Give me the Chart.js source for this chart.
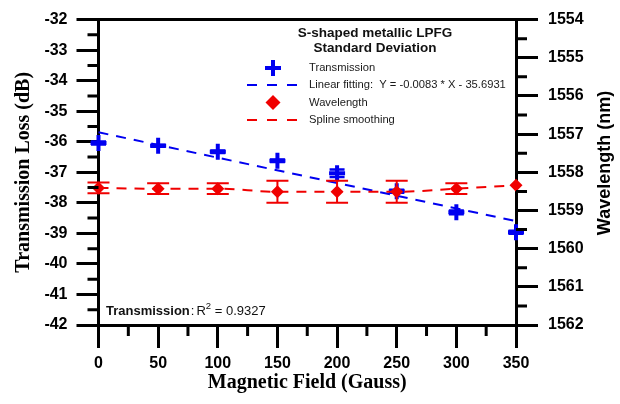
<!DOCTYPE html>
<html>
<head>
<meta charset="utf-8">
<script src="https://cdn.jsdelivr.net/npm/chart.js@4"></script>
<style>
  body { margin: 0; background: #fff; }
</style>
</head>
<body>
<canvas id="chart1" width="620" height="404"></canvas>
<script>
// donnees
var fieldX = [0, 50, 100, 150, 200, 250, 300, 350];
var transLoss = [-36.04, -36.13, -36.33, -36.62, -37.03, -37.62, -38.31, -38.96];
var transErr = [0.05, 0.03, 0.04, 0.04, 0.12, 0.05, 0.06, 0.05];
var wavelength = [1558.41, 1558.43, 1558.43, 1558.51, 1558.51, 1558.51, 1558.43, 1558.34];
var waveErr = [0.14, 0.14, 0.14, 0.29, 0.29, 0.29, 0.14, 0];
var fitX = [0, 350];
var fitY = [-35.69, -38.60];
var xTicks = [0, 50, 100, 150, 200, 250, 300, 350];

var BLUE = '#0000f0';
var RED = '#f00000';
var SANS = "'Liberation Sans', Arial, sans-serif";
var SERIF = "'Liberation Serif', 'Times New Roman', serif";

function pts(xs, ys) {
  return xs.map(function (x, i) { return { x: x, y: ys[i] }; });
}

// barres d'erreur, sous les marqueurs
var errorBars = {
  id: 'errorBars',
  beforeDatasetDraw: function (chart, args) {
    var ds = chart.data.datasets[args.index];
    if (!ds.errors) return;
    var ctx = chart.ctx;
    var xs = chart.scales.x;
    var ys = chart.scales[ds.yAxisID];
    ctx.save();
    ctx.strokeStyle = ds.errColor;
    ctx.lineWidth = ds.errWidth;
    ds.data.forEach(function (p, i) {
      var e = ds.errors[i];
      if (!e) return;
      var px = xs.getPixelForValue(p.x);
      var a = ys.getPixelForValue(p.y + e);
      var b = ys.getPixelForValue(p.y - e);
      ctx.beginPath();
      ctx.moveTo(px, a); ctx.lineTo(px, b);
      ctx.moveTo(px - ds.capHalf, a); ctx.lineTo(px + ds.capHalf, a);
      ctx.moveTo(px - ds.capHalf, b); ctx.lineTo(px + ds.capHalf, b);
      ctx.stroke();
    });
    ctx.restore();
  }
};

// petites graduations, cadre du haut, titre droit, legende et annotation
var decor = {
  id: 'decor',
  afterDraw: function (chart) {
    var ctx = chart.ctx;
    var area = chart.chartArea;
    var sx = chart.scales.x, sy = chart.scales.y, sy2 = chart.scales.y2;
    var v, p;
    ctx.save();
    ctx.strokeStyle = '#000';
    ctx.lineWidth = 3;
    ctx.beginPath();
    for (v = -32.5; v > -42; v -= 1) {
      p = sy.getPixelForValue(v);
      ctx.moveTo(area.left - 11, p); ctx.lineTo(area.left, p);
    }
    for (v = 1554.5; v < 1562; v += 1) {
      p = sy2.getPixelForValue(v);
      ctx.moveTo(area.right, p); ctx.lineTo(area.right + 11, p);
    }
    for (v = 25; v < 350; v += 50) {
      p = sx.getPixelForValue(v);
      ctx.moveTo(p, area.bottom); ctx.lineTo(p, area.bottom + 11);
    }
    // cadre du haut
    ctx.moveTo(area.left, area.top); ctx.lineTo(area.right, area.top);
    ctx.stroke();

    // titre de l'axe droit (lu de bas en haut)
    ctx.save();
    ctx.translate(605, 163);
    ctx.rotate(-Math.PI / 2);
    ctx.fillStyle = '#000';
    ctx.textAlign = 'center';
    ctx.textBaseline = 'middle';
    ctx.font = 'bold 18px ' + SANS;
    ctx.fillText('Wavelength (nm)', 0, 0);
    ctx.restore();

    // titre de la legende
    ctx.fillStyle = '#111';
    ctx.textAlign = 'center';
    ctx.textBaseline = 'middle';
    ctx.font = 'bold 13.5px ' + SANS;
    ctx.fillText('S-shaped metallic LPFG', 375, 33);
    ctx.fillText('Standard Deviation', 375, 48);

    // symboles
    var sxm = 273;
    ctx.strokeStyle = BLUE;
    ctx.lineWidth = 4;
    ctx.beginPath();
    ctx.moveTo(sxm - 8, 68); ctx.lineTo(sxm + 8, 68);
    ctx.moveTo(sxm, 60); ctx.lineTo(sxm, 76);
    ctx.stroke();

    ctx.lineWidth = 2;
    ctx.setLineDash([10, 10]);
    ctx.beginPath();
    ctx.moveTo(247, 85); ctx.lineTo(299, 85);
    ctx.stroke();
    ctx.strokeStyle = RED;
    ctx.beginPath();
    ctx.moveTo(247, 120); ctx.lineTo(299, 120);
    ctx.stroke();
    ctx.setLineDash([]);

    ctx.fillStyle = RED;
    ctx.beginPath();
    ctx.moveTo(sxm, 95); ctx.lineTo(sxm + 7.5, 102.5);
    ctx.lineTo(sxm, 110); ctx.lineTo(sxm - 7.5, 102.5);
    ctx.closePath();
    ctx.fill();

    ctx.fillStyle = '#1a1a1a';
    ctx.textAlign = 'left';
    ctx.font = '11.2px ' + SANS;
    ctx.fillText('Transmission', 309, 68);
    ctx.fillText('Linear fitting:  Y = -0.0083 * X - 35.6931', 309, 85);
    ctx.fillText('Wavelength', 309, 102.5);
    ctx.fillText('Spline smoothing', 309, 120);

    // R2
    var ax = 106, ay = 311;
    ctx.fillStyle = '#111';
    ctx.font = 'bold 13px ' + SANS;
    ctx.fillText('Transmission', ax, ay);
    ax += ctx.measureText('Transmission').width + 1;
    ctx.font = '13px ' + SANS;
    ctx.fillText(':', ax, ay);
    ax += ctx.measureText(':').width + 2;
    ctx.fillText('R', ax, ay);
    ax += ctx.measureText('R').width;
    ctx.font = '9.5px ' + SANS;
    ctx.fillText('2', ax, ay - 5);
    ax += ctx.measureText('2').width;
    ctx.font = '13px ' + SANS;
    ctx.fillText(' = 0.9327', ax, ay);
    ctx.restore();
  }
};

var tickFont = { family: SANS, size: 16, weight: 'bold' };

var ctx = document.getElementById('chart1').getContext('2d');
var myChart = new Chart(ctx, {
  type: 'line',
  data: {
    datasets: [
      {
        label: 'Linear fitting',
        data: pts(fitX, fitY),
        yAxisID: 'y',
        borderColor: BLUE,
        borderWidth: 2,
        borderDash: [10, 8],
        pointRadius: 0,
        order: 4,
        clip: false
      },
      {
        label: 'Transmission',
        data: pts(fieldX, transLoss),
        yAxisID: 'y',
        showLine: false,
        pointStyle: 'cross',
        pointRadius: 8,
        pointBorderWidth: 4,
        borderColor: BLUE,
        backgroundColor: BLUE,
        errors: transErr,
        errColor: BLUE,
        errWidth: 2.5,
        capHalf: 7.5,
        order: 3,
        clip: false
      },
      {
        label: 'Spline smoothing',
        data: pts(fieldX, wavelength),
        yAxisID: 'y2',
        borderColor: RED,
        borderWidth: 2,
        borderDash: [10, 8],
        pointRadius: 0,
        cubicInterpolationMode: 'monotone',
        order: 2,
        clip: false
      },
      {
        label: 'Wavelength',
        data: pts(fieldX, wavelength),
        yAxisID: 'y2',
        showLine: false,
        pointStyle: 'rectRot',
        pointRadius: 6.5,
        pointBorderWidth: 0,
        borderColor: RED,
        backgroundColor: RED,
        errors: waveErr,
        errColor: RED,
        errWidth: 2,
        capHalf: 11,
        order: 1,
        clip: false
      }
    ]
  },
  options: {
    responsive: false,
    animation: false,
    layout: { padding: { top: 13, left: 0, right: 0, bottom: 0 } },
    plugins: {
      legend: { display: false },
      tooltip: { enabled: false }
    },
    scales: {
      x: {
        type: 'linear',
        min: 0,
        max: 350,
        afterBuildTicks: function (s) { s.ticks = xTicks.map(function (v) { return { value: v }; }); },
        ticks: { font: tickFont, color: '#000', padding: 6, maxRotation: 0 },
        grid: { drawOnChartArea: false, color: '#000', lineWidth: 3, tickLength: 23 },
        border: { color: '#000', width: 3 },
        title: {
          display: true,
          text: 'Magnetic Field (Gauss)',
          color: '#000',
          font: { family: SERIF, size: 20, weight: 'bold' },
          padding: { top: 0, bottom: 9 }
        },
        afterFit: function (s) { s.height = 79; }
      },
      y: {
        position: 'left',
        min: -42,
        max: -32,
        ticks: { stepSize: 1, font: tickFont, color: '#000', padding: 9 },
        grid: { drawOnChartArea: false, color: '#000', lineWidth: 3, tickLength: 22 },
        border: { color: '#000', width: 3 },
        title: {
          display: true,
          text: 'Transmission Loss (dB)',
          color: '#000',
          font: { family: SERIF, size: 20, weight: 'bold' },
          padding: { top: 12, bottom: 0 }
        },
        afterFit: function (s) { s.width = 98.5; }
      },
      y2: {
        position: 'right',
        reverse: true,
        min: 1554,
        max: 1562,
        ticks: {
          stepSize: 1,
          font: tickFont,
          color: '#000',
          padding: 10,
          callback: function (v) { return String(v); }
        },
        grid: { drawOnChartArea: false, color: '#000', lineWidth: 3, tickLength: 22 },
        border: { color: '#000', width: 3 },
        afterFit: function (s) { s.width = 104; }
      }
    }
  },
  plugins: [errorBars, decor]
});
</script>
</body>
</html>
